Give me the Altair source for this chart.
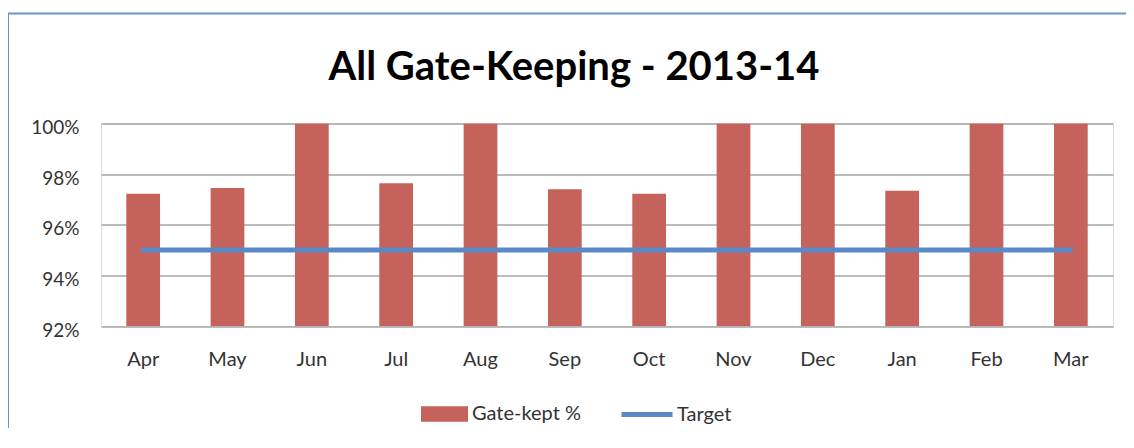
import altair as alt
import pandas as pd

months = ["Apr", "May", "Jun", "Jul", "Aug", "Sep", "Oct", "Nov", "Dec", "Jan", "Feb", "Mar"]
gate_kept = [0.9722, 0.9745, 1.0, 0.9764, 1.0, 0.974, 0.9722, 1.0, 1.0, 0.9734, 1.0, 1.0]
target = [0.95] * 12
y_ticks = [0.92, 0.94, 0.96, 0.98, 1.00]
title_text = "All Gate-Keeping - 2013-14"

df = pd.DataFrame({"Month": months, "Gate": gate_kept, "Target": target,
                   "s1": ["Gate-kept %"] * 12, "s2": ["Target"] * 12})

FONT = "Lato"
BAR = "#C6625C"
LINE = "#5A8AC6"
BORDER = "#6A95C8"

x_enc = alt.X("Month:N", sort=months,
              scale=alt.Scale(paddingInner=0.6, paddingOuter=0.3),
              axis=alt.Axis(title=None, labelAngle=0, labelFontSize=20, labelFont=FONT,
                            labelColor="#333333", ticks=False, domain=False, labelPadding=23))

y_scale = alt.Scale(domain=[0.92, 1.0], zero=False, nice=False)

bars = alt.Chart(df).mark_bar(clip=True).encode(
    x=x_enc,
    y=alt.Y("Gate:Q", scale=y_scale,
            axis=alt.Axis(title=None, values=y_ticks, format=".0%", labelFontSize=19,
                          labelFont=FONT, labelColor="#333333", ticks=False, domain=False,
                          grid=True, gridColor="#A6A6A6", gridWidth=1.5, labelPadding=22,
                          labelBaseline="middle", labelOffset=4)),
    fill=alt.Fill("s1:N", scale=alt.Scale(range=[BAR]),
                  legend=alt.Legend(title=None, orient="none", legendX=320, legendY=267,
                                    symbolType="M-1,-0.33H1V0.33H-1Z", symbolSize=2209,
                                    symbolStrokeWidth=0, labelFontSize=20, labelFont=FONT,
                                    labelColor="#333333", labelOffset=4, padding=0)),
)

line = alt.Chart(df).mark_line(strokeWidth=5, strokeCap="round").encode(
    x=alt.X("Month:N", sort=months),
    y=alt.Y("Target:Q", scale=y_scale),
    stroke=alt.Stroke("s2:N", scale=alt.Scale(range=[LINE]),
                      legend=alt.Legend(title=None, orient="none", legendX=518, legendY=263,
                                        symbolType="stroke", symbolSize=2601,
                                        symbolStrokeWidth=5, labelFontSize=20, labelFont=FONT,
                                        labelColor="#333333", labelOffset=2, padding=0)),
)

frame_df = pd.DataFrame({"k": [0]})
frame_top = alt.Chart(frame_df).mark_rule(color=BORDER, strokeWidth=2, clip=False).encode(
    x=alt.value(-93), x2=alt.value(1100), y=alt.value(-110)
)
frame_left = alt.Chart(frame_df).mark_rule(color=BORDER, strokeWidth=2, clip=False).encode(
    x=alt.value(-93), y=alt.value(-110), y2=alt.value(400)
)

title = alt.Chart(pd.DataFrame({"t": [title_text]})).mark_text(
    font=FONT, fontSize=40, fontWeight="bold", color="#000000",
    align="center", baseline="alphabetic"
).encode(text="t:N", x=alt.value(473), y=alt.value(-43.5))

chart = alt.layer(frame_top, frame_left, bars, line, title).resolve_scale(
    fill="independent", stroke="independent"
).properties(
    width=1012, height=202.5,
    padding={"left": 93, "top": 115.5, "right": 13, "bottom": 102},
    autosize=alt.AutoSizeParams(type="none"),
).configure_view(stroke=None).configure(background="#FFFFFF")

chart.save("out.html", embed_options={"renderer": "svg", "actions": False})
